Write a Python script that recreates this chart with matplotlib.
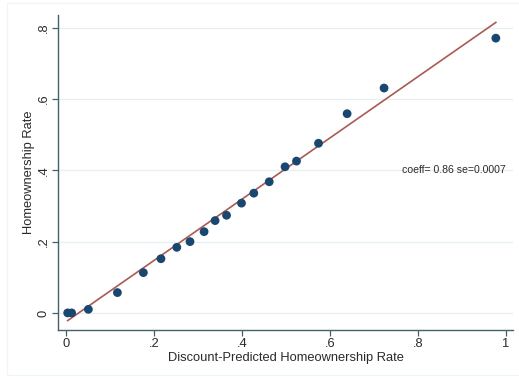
import matplotlib
matplotlib.use("Agg")
import matplotlib.pyplot as plt
import numpy as np
from matplotlib.patches import Rectangle

plt.rcParams['font.family'] = ['Liberation Sans', 'DejaVu Sans']

# Binned means: predicted vs. actual homeownership
predicted = [0.004, 0.013, 0.051, 0.117, 0.176, 0.216, 0.252, 0.282, 0.314,
             0.339, 0.365, 0.399, 0.427, 0.462, 0.498, 0.524, 0.574, 0.639,
             0.723, 0.977]
actual = [0.000, 0.000, 0.010, 0.057, 0.113, 0.152, 0.184, 0.200, 0.228,
          0.259, 0.274, 0.308, 0.336, 0.368, 0.410, 0.426, 0.476, 0.559,
          0.631, 0.771]

fit_intercept = -0.025
fit_slope = 0.86
annotation = "coeff= 0.86 se=0.0007"

x_ticks = [0, 0.2, 0.4, 0.6, 0.8, 1.0]
x_tick_labels = ["0", ".2", ".4", ".6", ".8", "1"]
y_ticks = [0, 0.2, 0.4, 0.6, 0.8]
y_tick_labels = ["0", ".2", ".4", ".6", ".8"]

axis_col = "#46606c"
grid_col = "#e6f0f4"
navy = "#1a476f"
fit_col = "#ab5a52"
text_col = "#2a2a2a"

fig = plt.figure(figsize=(5.19, 3.78), dpi=100)
fig.patch.set_facecolor("white")
# faint outer frame of the graph region
fig.patches.append(Rectangle((7 / 519, 3 / 378), 1.2, 372 / 378,
                             transform=fig.transFigure, fill=False,
                             edgecolor="#f0f5f7", linewidth=1.0))

ax = fig.add_axes([58 / 519, 1 - 330 / 378, 455 / 519, 315 / 378])
ax.set_xlim(-0.018, 1.016)
ax.set_ylim(-0.048, 0.836)

for yv in y_ticks:
    ax.axhline(yv, color=grid_col, linewidth=0.9, zorder=0)

xs = np.array([min(predicted), max(predicted)])
ax.plot(xs, fit_intercept + fit_slope * xs, color=fit_col, linewidth=1.2,
        zorder=2)
ax.scatter(predicted, actual, s=40, color=navy, edgecolors="none", zorder=3)

ax.text(1.0, 0.4, annotation, fontsize=7.6, color=text_col,
        ha="right", va="center")

ax.set_xticks(x_ticks)
ax.set_xticklabels(x_tick_labels)
ax.set_yticks(y_ticks)
ax.set_yticklabels(y_tick_labels, rotation=90, va="center")

for side in ["top", "right"]:
    ax.spines[side].set_visible(False)
for side in ["left", "bottom"]:
    ax.spines[side].set_color(axis_col)
    ax.spines[side].set_linewidth(1.0)

ax.tick_params(axis="both", colors=axis_col, length=4, width=0.9,
               labelsize=9.3, labelcolor=text_col, pad=2)

ax.set_xlabel("Discount-Predicted Homeownership Rate", fontsize=9.3,
              color=text_col, labelpad=1)
ax.set_ylabel("Homeownership Rate", fontsize=9.3, color=text_col,
              labelpad=2)

fig.savefig("out.png", dpi=100, facecolor="white")
